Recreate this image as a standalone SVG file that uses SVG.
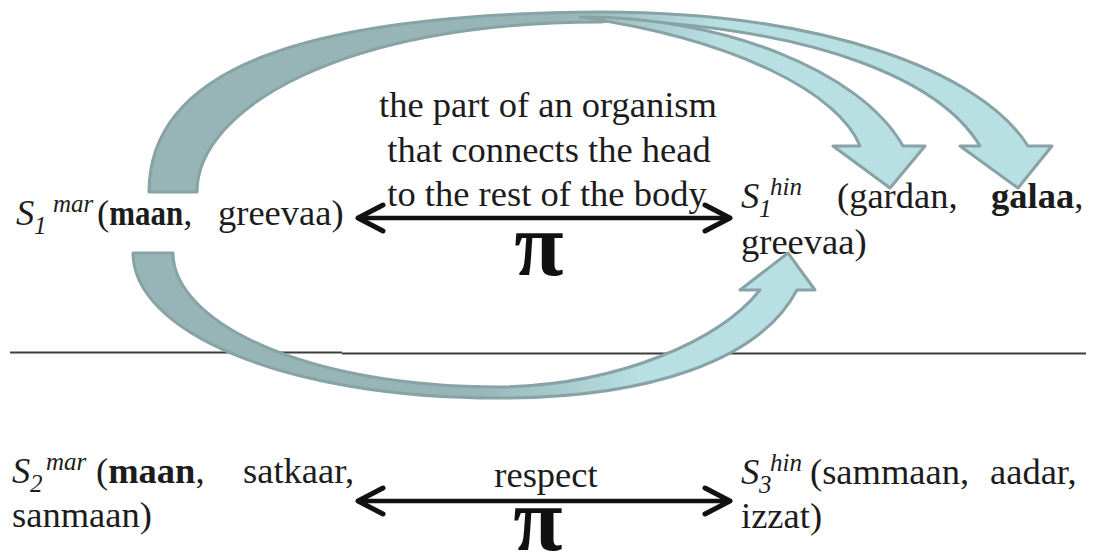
<svg xmlns="http://www.w3.org/2000/svg" width="1099" height="559" viewBox="0 0 1099 559">
<defs>
<linearGradient id="gTop" gradientUnits="userSpaceOnUse" x1="560" y1="0" x2="720" y2="0">
<stop offset="0" stop-color="#97b4b6"/><stop offset="1" stop-color="#b8dfe2"/>
</linearGradient>
<linearGradient id="gBot" gradientUnits="userSpaceOnUse" x1="470" y1="0" x2="640" y2="0">
<stop offset="0" stop-color="#97b4b6"/><stop offset="1" stop-color="#b8dfe2"/>
</linearGradient>
<marker id="chev" viewBox="-30 -17 34 34" refX="0" refY="0" markerWidth="34" markerHeight="34" markerUnits="userSpaceOnUse" orient="auto-start-reverse">
<path d="M -25,-13 L 0,0 L -25,13" fill="none" stroke="#111" stroke-width="5" stroke-linecap="round" stroke-linejoin="round"/>
</marker>
<style>
.t{font-family:"Liberation Serif","Times New Roman",serif;font-size:36.5px;fill:#1c1c1c}
.b{font-weight:bold}
.i{font-style:italic}
.s{font-size:25px}
.pi{font-family:"Liberation Serif","Times New Roman",serif;font-weight:bold;font-size:90px;fill:#111;text-anchor:middle}
.lbl{text-anchor:middle}
.rel{fill:none;stroke:#111;stroke-width:4.5;marker-start:url(#chev);marker-end:url(#chev)}
.blkT{fill:url(#gTop);stroke:#87a3a5;stroke-width:3;stroke-linejoin:round}
.blkB{fill:url(#gBot);stroke:#87a3a5;stroke-width:3;stroke-linejoin:round}
.sep{stroke:#3c3c3c;stroke-width:2}
</style>
</defs>
<rect width="1099" height="559" fill="#ffffff"/>

<g id="separator">
<line class="sep" x1="10" y1="352.5" x2="342" y2="352.5"/>
<line class="sep" x1="342" y1="353.5" x2="1086" y2="353.5"/>
</g>

<g id="connectors">
<path class="blkT" d="M 149,192 C 149,70 300,14 600,12 C 820,12 980,70 1028,146 L 1052,146 L 1018,188 L 960,146 L 980,146 C 940,80 820,30 620,20 L 600,22 C 340,22 197,110 197,192 Z"/>
<path class="blkT" d="M 580,17 C 720,16 860,70 903,146 L 925,146 L 890,188 L 833,146 L 860,146 C 840,95 740,40 580,17 Z"/>
<path class="blkB" d="M 133,253 C 133,330 280,398 500,398 C 650,398 760,360 797,290 L 815,290 L 788,253 L 740,290 L 760,290 C 720,340 620,385 500,387 C 300,387 173,320 173,253 Z"/>
<path class="rel" d="M 358,218 L 730,218"/>
<path class="rel" d="M 358,501 L 730,501"/>
<g id="label-top">
<text class="t lbl" x="548" y="117">the part of an organism</text>
<text class="t lbl" x="549" y="162">that connects the head</text>
<text class="t lbl" x="547" y="206">to the rest of the body</text>
<text class="pi" x="539" y="275">π</text>
</g>
<g id="label-bottom">
<text class="t lbl" x="546" y="487">respect</text>
<text class="pi" x="538" y="550">π</text>
</g>
</g>

<g id="node-s1mar">
<text class="t" y="225"><tspan class="i" x="16">S</tspan><tspan class="i s" x="34" y="234">1</tspan><tspan class="i s" x="53" y="212">mar</tspan><tspan x="97" y="225">(</tspan><tspan class="b" textLength="74" lengthAdjust="spacingAndGlyphs">maan</tspan><tspan>,</tspan><tspan x="218">greevaa)</tspan></text>
</g>

<g id="node-s1hin">
<text class="t" y="208"><tspan class="i" x="741">S</tspan><tspan class="i s" x="759" y="217">1</tspan><tspan class="i s" x="770" y="195">hin</tspan><tspan x="837" y="208">(gardan,</tspan><tspan class="b" x="991">galaa</tspan><tspan>,</tspan></text>
<text class="t" x="741" y="254">greevaa)</text>
</g>

<g id="node-s2mar">
<text class="t" y="483"><tspan class="i" x="12">S</tspan><tspan class="i s" x="30" y="492">2</tspan><tspan class="i s" x="46" y="470">mar</tspan><tspan x="96" y="483">(</tspan><tspan class="b">maan</tspan><tspan>,</tspan><tspan x="243">satkaar,</tspan></text>
<text class="t" x="12" y="527">sanmaan)</text>
</g>

<g id="node-s3hin">
<text class="t" y="484"><tspan class="i" x="741">S</tspan><tspan class="i s" x="759" y="493">3</tspan><tspan class="i s" x="770" y="471">hin</tspan><tspan x="810" y="484">(sammaan,</tspan><tspan x="990">aadar,</tspan></text>
<text class="t" x="741" y="528">izzat)</text>
</g>
</svg>
